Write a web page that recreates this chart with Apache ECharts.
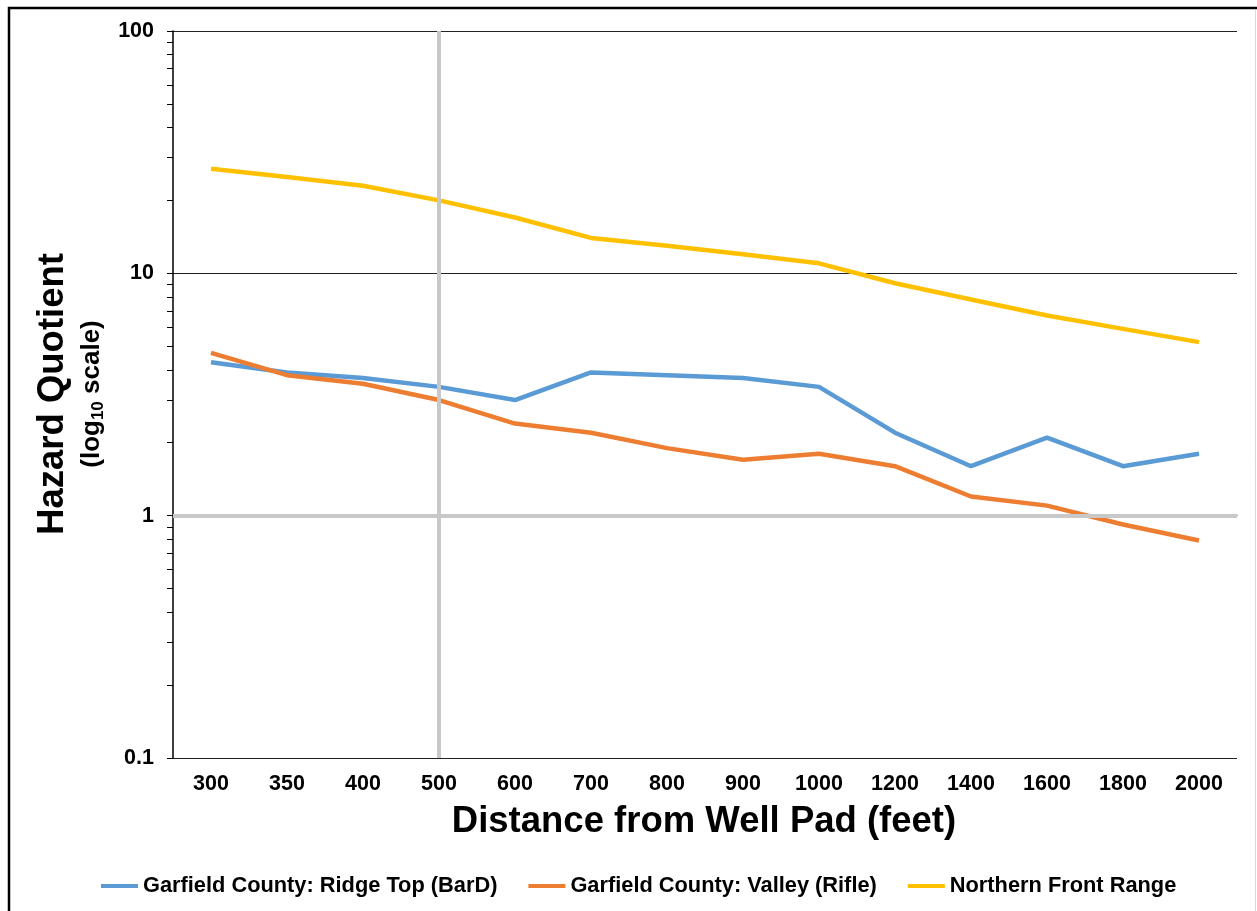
<!DOCTYPE html>
<html>
<head>
<meta charset="utf-8">
<script src="https://cdn.jsdelivr.net/npm/echarts@6/dist/echarts.min.js"></script>
<style>
  html, body { margin: 0; padding: 0; background: #fff; }
  #chart { width: 1257px; height: 911px; }
</style>
</head>
<body>
<div id="chart"></div>
<script>
// Distance bands from the well pad (feet)
const distances = ['300', '350', '400', '500', '600', '700', '800', '900', '1000', '1200', '1400', '1600', '1800', '2000'];

// Hazard quotient per site
const ridgeTop = [4.3, 3.9, 3.7, 3.4, 3.0, 3.9, 3.8, 3.7, 3.4, 2.2, 1.6, 2.1, 1.6, 1.8];
const valley = [4.7, 3.8, 3.5, 3.0, 2.4, 2.2, 1.9, 1.7, 1.8, 1.6, 1.2, 1.1, 0.92, 0.79];
const frontRange = [27, 25, 23, 20, 17, 14, 13, 12, 11, 9.1, 7.8, 6.7, 5.9, 5.2];

// Log axis range and reference lines
const yMin = 0.1;
const yMax = 100;
const refHQ = 1;
const refDistance = '500';

// Minor/major tick positions (log10 space) for the tick-only helper axis
const tickExponents = [];
for (let e = -1; e <= 1; e++) {
  for (let k = 1; k <= 9; k++) tickExponents.push(Math.log10(k * Math.pow(10, e)));
}
tickExponents.push(2);

const FONT = '"Liberation Sans", Arial, sans-serif';
const chart = echarts.init(document.getElementById('chart'), null, { renderer: 'canvas' });

const option = {
  animation: false,
  backgroundColor: '#ffffff',
  grid: { left: 173, top: 31, right: 20, bottom: 153 },
  xAxis: {
    type: 'category',
    data: distances,
    boundaryGap: true,
    axisLine: { show: true, lineStyle: { color: '#000', width: 1 } },
    axisTick: { show: false },
    axisLabel: { margin: 15, color: '#000', fontFamily: FONT, fontWeight: 'bold', fontSize: 21.5 },
    splitLine: { show: false }
  },
  yAxis: [
    {
      type: 'log',
      logBase: 10,
      min: yMin,
      max: yMax,
      axisLine: { show: true, lineStyle: { color: '#000', width: 1.5 } },
      axisTick: { show: false },
      axisLabel: {
        margin: 19,
        color: '#000',
        fontFamily: FONT,
        fontWeight: 'bold',
        fontSize: 21.5,
        formatter: v => String(+v.toPrecision(3))
      },
      splitLine: { show: true, lineStyle: { color: '#222', width: 1 } }
    },
    {
      type: 'value',
      min: -1,
      max: 2,
      position: 'left',
      axisLine: { show: false },
      axisLabel: { show: false },
      splitLine: { show: false },
      axisTick: {
        show: true,
        length: 6,
        customValues: tickExponents,
        lineStyle: { color: '#000', width: 1 }
      }
    }
  ],
  legend: {
    left: 101,
    top: 875,
    padding: 0,
    icon: 'rect',
    itemWidth: 37,
    itemHeight: 4,
    itemGap: 31,
    textStyle: { color: '#000', fontFamily: FONT, fontWeight: 'bold', fontSize: 21.8 },
    data: ['Garfield County: Ridge Top (BarD)', 'Garfield County: Valley (Rifle)', 'Northern Front Range']
  },
  series: [
    {
      name: 'Garfield County: Ridge Top (BarD)',
      type: 'line',
      data: ridgeTop,
      symbol: 'none',
      color: '#5B9BD5',
      lineStyle: { width: 4.5, color: '#5B9BD5' },
      z: 3
    },
    {
      name: 'Garfield County: Valley (Rifle)',
      type: 'line',
      data: valley,
      symbol: 'none',
      color: '#ED7D31',
      lineStyle: { width: 4.5, color: '#ED7D31' },
      z: 3
    },
    {
      name: 'Northern Front Range',
      type: 'line',
      data: frontRange,
      symbol: 'none',
      color: '#FFC000',
      lineStyle: { width: 4.5, color: '#FFC000' },
      z: 3,
      markLine: {
        silent: true,
        symbol: 'none',
        label: { show: false },
        lineStyle: { color: '#C8C8C8', width: 4, type: 'solid' },
        data: [
          { yAxis: refHQ },
          { xAxis: refDistance }
        ]
      }
    }
  ],
  graphic: [
    // chart frame
    {
      type: 'rect',
      shape: { x: 9, y: 8, width: 1260, height: 940 },
      style: { fill: null, stroke: '#000', lineWidth: 2.5 },
      silent: true,
      z: 0
    },
    {
      type: 'line',
      shape: { x1: 1255.5, y1: 10, x2: 1255.5, y2: 911 },
      style: { stroke: '#d9d9d9', lineWidth: 1 },
      silent: true
    },
    // y axis title
    {
      type: 'text',
      x: 53,
      y: 394,
      rotation: Math.PI / 2,
      style: {
        text: 'Hazard Quotient',
        fill: '#000',
        font: 'bold 36.5px ' + FONT,
        align: 'center',
        verticalAlign: 'middle'
      }
    },
    {
      type: 'text',
      x: 92,
      y: 394,
      rotation: Math.PI / 2,
      style: {
        text: '{m|(log}{s|10}{m| scale)}',
        align: 'center',
        verticalAlign: 'middle',
        rich: {
          m: { fill: '#000', fontFamily: FONT, fontWeight: 'bold', fontSize: 26, lineHeight: 30, verticalAlign: 'middle' },
          s: { fill: '#000', fontFamily: FONT, fontWeight: 'bold', fontSize: 17, lineHeight: 30, verticalAlign: 'bottom' }
        }
      }
    },
    // x axis title
    {
      type: 'text',
      x: 704,
      y: 822,
      style: {
        text: 'Distance from Well Pad (feet)',
        fill: '#000',
        font: 'bold 36.5px ' + FONT,
        align: 'center',
        verticalAlign: 'middle'
      }
    }
  ]
};

chart.setOption(option);
</script>
</body>
</html>
